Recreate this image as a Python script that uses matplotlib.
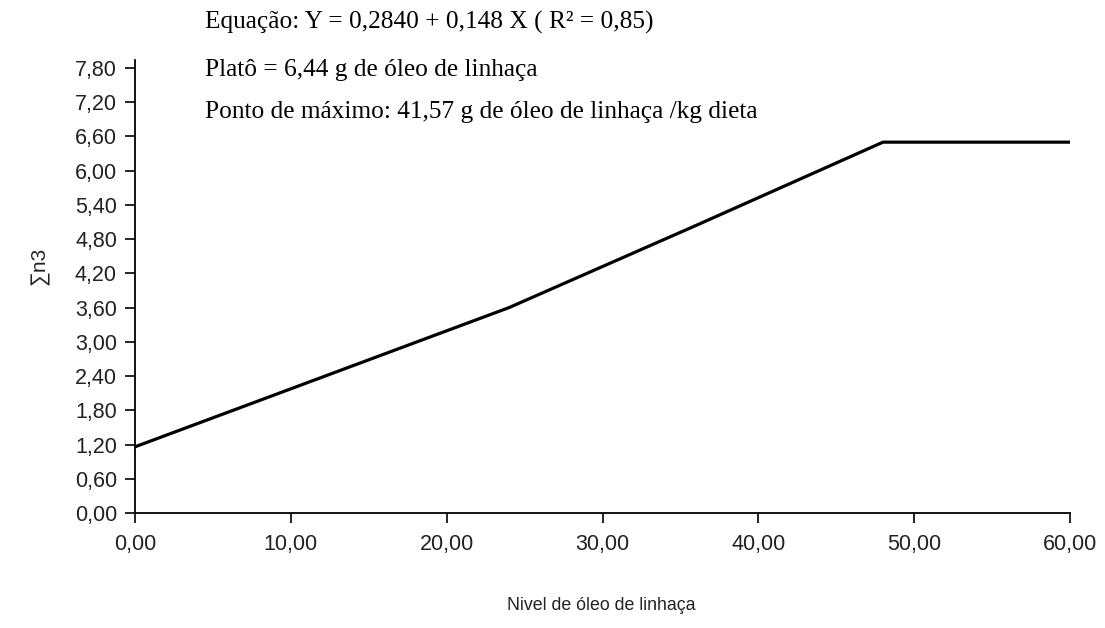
import matplotlib
matplotlib.use("Agg")
import matplotlib.pyplot as plt

# Data
x_levels = [0, 12, 24, 36, 48, 60]
sum_n3 = [1.16, 2.38, 3.60, 5.04, 6.50, 6.50]

x_ticks = [0, 10, 20, 30, 40, 50, 60]
x_tick_labels = ["0,00", "10,00", "20,00", "30,00", "40,00", "50,00", "60,00"]
y_ticks = [0.0, 0.6, 1.2, 1.8, 2.4, 3.0, 3.6, 4.2, 4.8, 5.4, 6.0, 6.6, 7.2, 7.8]
y_tick_labels = ["0,00", "0,60", "1,20", "1,80", "2,40", "3,00", "3,60",
                 "4,20", "4,80", "5,40", "6,00", "6,60", "7,20", "7,80"]

annotations = [
    "Equação: Y = 0,2840 + 0,148 X ( R² = 0,85)",
    "Platô = 6,44 g de óleo de linhaça",
    "Ponto de máximo: 41,57 g de óleo de linhaça /kg dieta",
]

W, H = 1105, 628
fig = plt.figure(figsize=(W / 100, H / 100), dpi=100)
left, right, top, bottom = 135, 1070, 60, 513
ax = fig.add_axes([left / W, 1 - bottom / H, (right - left) / W, (bottom - top) / H])

ax.plot(x_levels, sum_n3, color="black", lw=2.3, solid_joinstyle="miter")

ax.set_xlim(0, 60)
ax.set_ylim(0, 7.94)
ax.set_xticks(x_ticks)
ax.set_xticklabels(x_tick_labels)
ax.set_yticks(y_ticks)
ax.set_yticklabels(y_tick_labels)

for s in ["top", "right"]:
    ax.spines[s].set_visible(False)
for s in ["left", "bottom"]:
    ax.spines[s].set_linewidth(1.3)
    ax.spines[s].set_color("black")

ax.tick_params(axis="both", direction="out", length=7, width=1.2, color="black",
               labelsize=15.5, labelcolor="#222222")
ax.tick_params(axis="x", pad=8)
ax.tick_params(axis="y", pad=6)
for lbl in ax.get_xticklabels() + ax.get_yticklabels():
    lbl.set_fontfamily("Liberation Sans")

fig.text(40 / W, 1 - 266 / H, "∑n3", rotation=90, ha="center", va="center",
         fontsize=15, family=["Liberation Sans", "DejaVu Sans"], color="#222222")
fig.text(601 / W, 1 - 606 / H, "Nivel de óleo de linhaça", ha="center", va="center",
         fontsize=12.8, family="Liberation Sans", color="#222222")

ys = [22, 70, 112]
for txt, yy in zip(annotations, ys):
    fig.text(205 / W, 1 - yy / H, txt, ha="left", va="center", fontsize=18.3,
             family="Liberation Serif", color="black")

fig.savefig("out.png", dpi=100, facecolor="white")
